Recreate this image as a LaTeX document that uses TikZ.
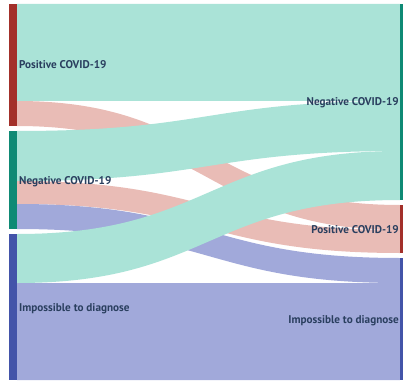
\documentclass[tikz,border=0pt]{standalone}
\usepackage{fontspec}
\setmainfont{PT Sans}
\definecolor{lkgreen}{HTML}{AAE3D7}
\definecolor{lkpink}{HTML}{E9BCB6}
\definecolor{lkblue}{HTML}{A1A9DA}
\definecolor{ndred}{HTML}{A3302A}
\definecolor{ndgreen}{HTML}{0F8A75}
\definecolor{ndblue}{HTML}{4354A9}
\definecolor{txt}{HTML}{2A3F5F}
\tikzset{
  lbl/.style={inner sep=0pt, font=\fontsize{11.2}{13}\selectfont\bfseries, text=txt},
  lblL/.style={lbl, anchor=base west},
  lblR/.style={lbl, anchor=base east},
}
% link: colour, x0, s0, s1, x1, t0, t1
\newcommand{\sklink}[7]{%
  \fill[#1] (#2,#3) .. controls (208.5,#3) and (208.5,#6) .. (#5,#6)
     -- (#5,#7) .. controls (208.5,#7) and (208.5,#4) .. (#2,#4) -- cycle;}
\begin{document}
\begin{tikzpicture}[x=1pt,y=-1pt]
\useasboundingbox (0,0) rectangle (403,382);
% links (pink and blue first, green on top)
\sklink{lkpink}{17}{101}{126}{400}{205}{230}
\sklink{lkpink}{17}{181}{204}{400}{230}{253}
\sklink{lkblue}{17}{204}{229}{400}{258}{283}
\sklink{lkblue}{17}{283}{380}{400}{283}{380}
\sklink{lkgreen}{17}{4}{101}{400}{4}{101}
\sklink{lkgreen}{17}{131}{181}{400}{101}{151}
\sklink{lkgreen}{17}{234}{283}{400}{151}{200}
% nodes
\fill[ndred]   (9,4) rectangle (17,126);
\fill[ndgreen] (9,131) rectangle (17,229);
\fill[ndblue]  (9,234) rectangle (17,380);
\fill[ndgreen] (400,4) rectangle (408,200);
\fill[ndred]   (400,205) rectangle (408,253);
\fill[ndblue]  (400,258) rectangle (408,380);
% labels
\node[lblL] (lpos) at (19,69) {Positive COVID-19};
\node[lblL] (lneg) at (19,184) {Negative COVID-19};
\node[lblL] (limp) at (19,311) {Impossible to diagnose};
\node[lblR] (rneg) at (399,106) {Negative COVID-19};
\node[lblR] (rpos) at (399,233) {Positive COVID-19};
\node[lblR] (rimp) at (399,323) {Impossible to diagnose};
\end{tikzpicture}
\end{document}
